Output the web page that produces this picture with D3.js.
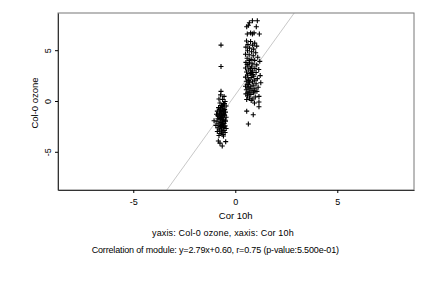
<!DOCTYPE html>
<html>
<head>
<meta charset="utf-8">
<script src="https://cdn.jsdelivr.net/npm/d3@7"></script>
<style>
  body { margin: 0; background: #fff; }
  text { font-family: "Liberation Sans", Arial, sans-serif; fill: #000; }
</style>
</head>
<body>
<script>
// module "ozone" cluster points (x = Cor 10h, y = Col-0 ozone)
var lowCluster = [
    [-0.70, 5.50], [-0.70, 3.40], [-0.70, 0.95], [-0.72, 0.60], [-0.55, 0.45], [-0.80, 0.20],
    [-0.62, 0.15], [-0.50, -0.05], [-0.75, -0.20], [-0.58, -0.30], [-0.68, -0.45], [-0.45, -0.50],
    [-0.82, -0.65], [-0.60, -0.70], [-0.52, -0.85], [-0.72, -0.90], [-0.88, -1.00], [-0.65, -1.05],
    [-0.48, -1.10], [-0.78, -1.20], [-0.58, -1.25], [-0.92, -1.30], [-0.70, -1.35], [-0.52, -1.40],
    [-0.62, -1.50], [-0.80, -1.55], [-0.45, -1.60], [-0.68, -1.65], [-0.85, -1.75], [-0.57, -1.80],
    [-0.75, -1.85], [-1.04, -1.94], [-0.62, -1.95], [-0.48, -2.00], [-0.90, -2.05], [-0.70, -2.10],
    [-0.55, -2.20], [-0.80, -2.25], [-0.64, -2.30], [-0.95, -2.40], [-0.50, -2.45], [-0.72, -2.50],
    [-0.60, -2.60], [-0.85, -2.65], [-0.45, -2.70], [-0.68, -2.75], [-0.78, -2.85], [-0.55, -2.90],
    [-0.88, -3.00], [-0.65, -3.05], [-0.50, -3.10], [-0.75, -3.20], [-0.60, -3.30], [-0.83, -3.94],
    [-0.47, -4.00], [-0.75, -4.15], [-0.64, -4.43], [-0.58, -0.95], [-0.66, -1.45], [-0.73, -1.70],
    [-0.54, -1.30], [-0.61, -2.05], [-0.69, -2.40], [-0.57, -2.55], [-0.76, -0.80], [-0.63, -0.55],
    [-0.53, -0.25], [-0.71, -1.15], [-0.86, -1.45], [-0.49, -1.90], [-0.67, -2.95], [-0.58, -3.45],
    [-0.80, -3.40]
];

var highCluster = [
    [0.84, 7.90], [1.08, 7.90], [0.69, 7.70], [0.64, 7.45], [1.03, 7.30], [0.56, 7.30],
    [0.75, 6.70], [0.92, 6.70], [0.59, 6.60], [1.18, 6.60], [0.84, 6.60],
    [0.55, 5.90], [0.75, 5.85], [0.95, 5.70], [0.62, 5.55], [0.85, 5.50], [1.05, 5.40],
    [0.52, 5.30], [0.70, 5.20], [0.90, 5.10], [0.60, 4.95], [0.80, 4.85], [1.00, 4.75],
    [0.50, 4.60], [0.68, 4.55], [0.88, 4.45], [1.10, 4.30], [0.58, 4.20], [0.78, 4.10],
    [0.95, 4.00], [1.20, 3.90], [0.52, 3.80], [0.70, 3.75], [0.86, 3.65], [1.05, 3.55],
    [0.62, 3.45], [0.80, 3.35], [0.50, 3.25], [0.96, 3.20], [1.15, 3.10], [0.66, 3.05],
    [0.85, 2.95], [0.55, 2.85], [1.02, 2.80], [0.74, 2.70], [1.22, 2.50], [0.60, 2.55],
    [0.90, 2.45], [0.50, 2.35], [0.78, 2.30], [1.08, 2.20], [0.64, 2.15], [0.95, 2.05],
    [0.54, 1.95], [0.84, 1.90], [1.25, 1.80], [0.70, 1.80], [1.02, 1.70], [0.58, 1.65],
    [0.88, 1.55], [0.50, 1.45], [0.76, 1.40], [1.12, 1.35], [0.62, 1.30], [0.96, 1.20],
    [0.54, 1.10], [0.82, 1.05], [1.06, 0.95], [0.68, 0.90], [0.90, 0.80], [0.52, 0.70],
    [0.76, 0.65], [1.16, 0.45], [0.60, 0.50], [0.98, 0.40], [0.70, 0.30], [0.86, 0.20],
    [0.56, 0.15], [1.16, -0.10], [0.78, 0.05], [0.94, -0.20], [1.16, -0.56], [0.56, -1.00],
    [0.88, -1.35], [0.64, -2.26], [0.66, 2.00], [0.72, 1.20], [0.80, 2.80], [0.58, 3.60],
    [0.68, 4.00], [0.92, 1.00], [0.62, 0.80], [0.86, 2.60], [0.74, 3.20], [0.64, 1.60]
];

var xTicks = [-5, 0, 5];
var yTicks = [-5, 0, 5];
var xDomain = [-8.69, 8.76];
var yDomain = [-8.76, 8.66];
var fitSlope = 2.79, fitIntercept = 0.60;

var xLabel = 'Cor 10h';
var yLabel = 'Col-0 ozone';
var subtitle1 = 'yaxis: Col-0 ozone, xaxis: Cor 10h';
var subtitle2 = 'Correlation of module: y=2.79x+0.60, r=0.75 (p-value:5.500e-01)';

var W = 432, H = 288;
var box = {left: 58, right: 414, top: 13, bottom: 190};
var fs = '9px';

var svg = d3.select('body').append('svg')
    .attr('width', W)
    .attr('height', H);

var x = d3.scaleLinear().domain(xDomain).range([box.left, box.right]);
var y = d3.scaleLinear().domain(yDomain).range([box.bottom, box.top]);

svg.append('clipPath').attr('id', 'plotclip')
    .append('rect')
    .attr('x', box.left).attr('y', box.top)
    .attr('width', box.right - box.left).attr('height', box.bottom - box.top);

// fitted line
var lx0 = xDomain[0], lx1 = xDomain[1];
svg.append('line')
    .attr('clip-path', 'url(#plotclip)')
    .attr('x1', x(lx0)).attr('y1', y(fitSlope * lx0 + fitIntercept))
    .attr('x2', x(lx1)).attr('y2', y(fitSlope * lx1 + fitIntercept))
    .attr('stroke', '#c8c8c8')
    .attr('stroke-width', 1);

// points as "+"
var pts = lowCluster.concat(highCluster);
var g = svg.append('g');
pts.forEach(function (p) {
    var cx = x(p[0]), cy = y(p[1]);
    g.append('path')
        .attr('d', 'M' + (cx - 2.5) + ',' + cy + 'H' + (cx + 2.5) + 'M' + cx + ',' + (cy - 2.5) + 'V' + (cy + 2.5))
        .attr('stroke', '#000')
        .attr('stroke-width', 1.1)
        .attr('fill', 'none');
});

// frame
svg.append('rect')
    .attr('x', box.left).attr('y', box.top)
    .attr('width', box.right - box.left).attr('height', box.bottom - box.top)
    .attr('fill', 'none')
    .attr('stroke', '#777')
    .attr('stroke-width', 1);

var fmt = function (d) { return d < 0 ? '-' + Math.abs(d) : d; };

// axes
var xAxis = d3.axisBottom(x).tickValues(xTicks).tickSize(3).tickSizeOuter(0).tickPadding(6).tickFormat(fmt);
var gx = svg.append('g')
    .attr('transform', 'translate(0,' + box.bottom + ')')
    .call(xAxis);
gx.select('.domain').attr('stroke', '#333');
gx.selectAll('text').style('font-size', fs).style('font-family', '"Liberation Sans", Arial, sans-serif');

var yAxis = d3.axisLeft(y).tickValues(yTicks).tickSize(3).tickSizeOuter(0).tickPadding(6).tickFormat(fmt);
var gy = svg.append('g')
    .attr('transform', 'translate(' + box.left + ',0)')
    .call(yAxis);
gy.select('.domain').attr('stroke', '#333');
gy.selectAll('text')
    .style('font-size', fs)
    .style('font-family', '"Liberation Sans", Arial, sans-serif')
    .attr('text-anchor', 'middle')
    .attr('x', 0)
    .attr('y', 0)
    .attr('dy', '0')
    .attr('transform', 'translate(-7,0) rotate(-90)');

// labels
svg.append('text')
    .attr('x', 235.7).attr('y', 218.5)
    .attr('text-anchor', 'middle').style('font-size', '9.5px')
    .text(xLabel);

svg.append('text')
    .attr('transform', 'translate(38,103) rotate(-90)')
    .attr('text-anchor', 'middle').style('font-size', '9.5px')
    .text(yLabel);

svg.append('text')
    .attr('x', 152).attr('y', 235.5)
    .style('font-size', fs)
    .attr('textLength', 141.7).attr('lengthAdjust', 'spacing')
    .text(subtitle1);

svg.append('text')
    .attr('x', 91.7).attr('y', 252.5)
    .style('font-size', fs)
    .attr('textLength', 247.3).attr('lengthAdjust', 'spacing')
    .text(subtitle2);
</script>
</body>
</html>
